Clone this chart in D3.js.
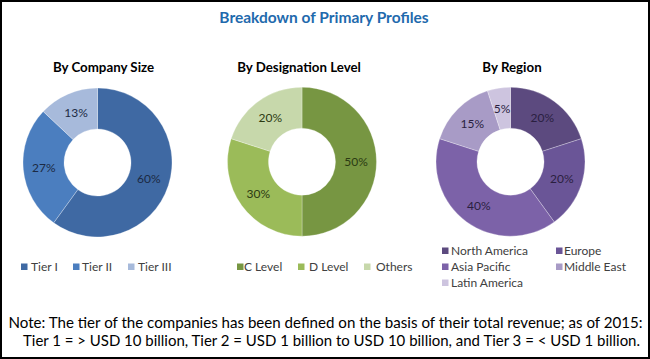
<!DOCTYPE html>
<html><head><meta charset="utf-8">
<script src="https://cdn.jsdelivr.net/npm/d3@7/dist/d3.min.js"></script>
<style>body{margin:0;background:#fff}svg{display:block}</style>
</head><body>
<script>
const mainTitle = "Breakdown of Primary Profiles";
const companyCategories = ["Tier I", "Tier II", "Tier III"];
const companyValues = [60, 27, 13];
const designationCategories = ["C Level", "D Level", "Others"];
const designationValues = [50, 30, 20];
const regionCategories = ["North America", "Europe", "Asia Pacific", "Middle East", "Latin America"];
const regionValues = [20, 20, 40, 15, 5];
const noteLines = [
  "Note: The tier of the companies has been defined on the basis of their total revenue; as of 2015:",
  "Tier 1 = > USD 10 billion, Tier 2 = USD 1 billion to USD 10 billion, and Tier 3 = < USD 1 billion."
];

const W = 650, H = 359;
const svg = d3.select("body").append("svg").attr("width", W).attr("height", H);
svg.append("rect").attr("x", 1).attr("y", 1).attr("width", W - 2).attr("height", H - 2)
  .attr("fill", "#fff").attr("stroke", "#000").attr("stroke-width", 2);

const FONT = "Lato, 'Open Sans', sans-serif";

svg.append("text").attr("x", 324).attr("y", 23).attr("text-anchor", "middle")
  .attr("font-family", FONT).attr("font-weight", "bold").attr("font-size", 15.5)
  .attr("fill", "#1f6aad").text(mainTitle);

const charts = [
  {title: "By Company Size", cats: companyCategories, vals: companyValues, cx: 97.5, cy: 162.5,
   colors: ["#3f69a3", "#4b7ebf", "#a7badb"], label: "#1c2a44",
   legend: {cols: [[21, 31], [73, 82], [128, 138]], rows: [267], perRow: 3}},
  {title: "By Designation Level", cats: designationCategories, vals: designationValues, cx: 302, cy: 161.7,
   colors: ["#779642", "#9bbb59", "#c7d8ab"], label: "#2b3a12",
   legend: {cols: [[237, 244], [298, 309], [364, 376]], rows: [267], perRow: 3}},
  {title: "By Region", cats: regionCategories, vals: regionValues, cx: 510.5, cy: 161.7,
   colors: ["#5c4a7f", "#6a5597", "#7c62a8", "#a89bc6", "#cdc4df"], label: "#2a1f3f",
   legend: {cols: [[442, 451], [556, 564]], rows: [251, 267, 283], perRow: 2}}
];
const titleX = [103.5, 299, 512];

const R = 74.5, r0 = 33.5;
charts.forEach((c, ci) => {
  svg.append("text").attr("x", titleX[ci]).attr("y", 72).attr("text-anchor", "middle")
    .attr("font-family", FONT).attr("font-weight", "bold").attr("font-size", 13.3)
    .attr("fill", "#000").text(c.title);
  const data = c.cats.map((k, i) => ({k, v: c.vals[i], i}));
  const pie = d3.pie().value(d => d.v).sort(null);
  const arc = d3.arc().innerRadius(r0).outerRadius(R);
  const g = svg.append("g").attr("transform", `translate(${c.cx},${c.cy})`);
  const arcs = pie(data);
  g.selectAll("path").data(arcs).join("path")
    .attr("d", arc).attr("fill", d => c.colors[d.data.i])
    .attr("stroke", "#ffffff").attr("stroke-opacity", 0.35).attr("stroke-width", 0.8);
  g.selectAll("text").data(arcs).join("text")
    .attr("transform", d => `translate(${arc.centroid(d)})`)
    .attr("text-anchor", "middle").attr("dy", "0.35em")
    .attr("font-family", FONT).attr("font-size", 12).attr("fill", c.label)
    .text(d => d.data.v + "%");
  const lg = svg.append("g");
  data.forEach((d, i) => {
    const col = c.legend.cols[i % c.legend.perRow];
    const row = c.legend.rows[Math.floor(i / c.legend.perRow)];
    lg.append("rect").attr("x", col[0]).attr("y", row - 3.5).attr("width", 6.5).attr("height", 6.5)
      .attr("fill", c.colors[i]);
    lg.append("text").attr("x", col[1]).attr("y", row).attr("dy", "0.35em")
      .attr("font-family", FONT).attr("font-size", 12).attr("fill", "#404040").text(d.k);
  });
});

const noteX = [8.5, 23], noteW = [634, 617], noteY = [328, 346];
noteLines.forEach((t, i) => {
  svg.append("text").attr("x", noteX[i]).attr("y", noteY[i])
    .attr("font-family", FONT).attr("font-size", 15).attr("fill", "#000")
    .attr("textLength", noteW[i]).attr("lengthAdjust", "spacingAndGlyphs").text(t);
});
</script>
</body></html>
